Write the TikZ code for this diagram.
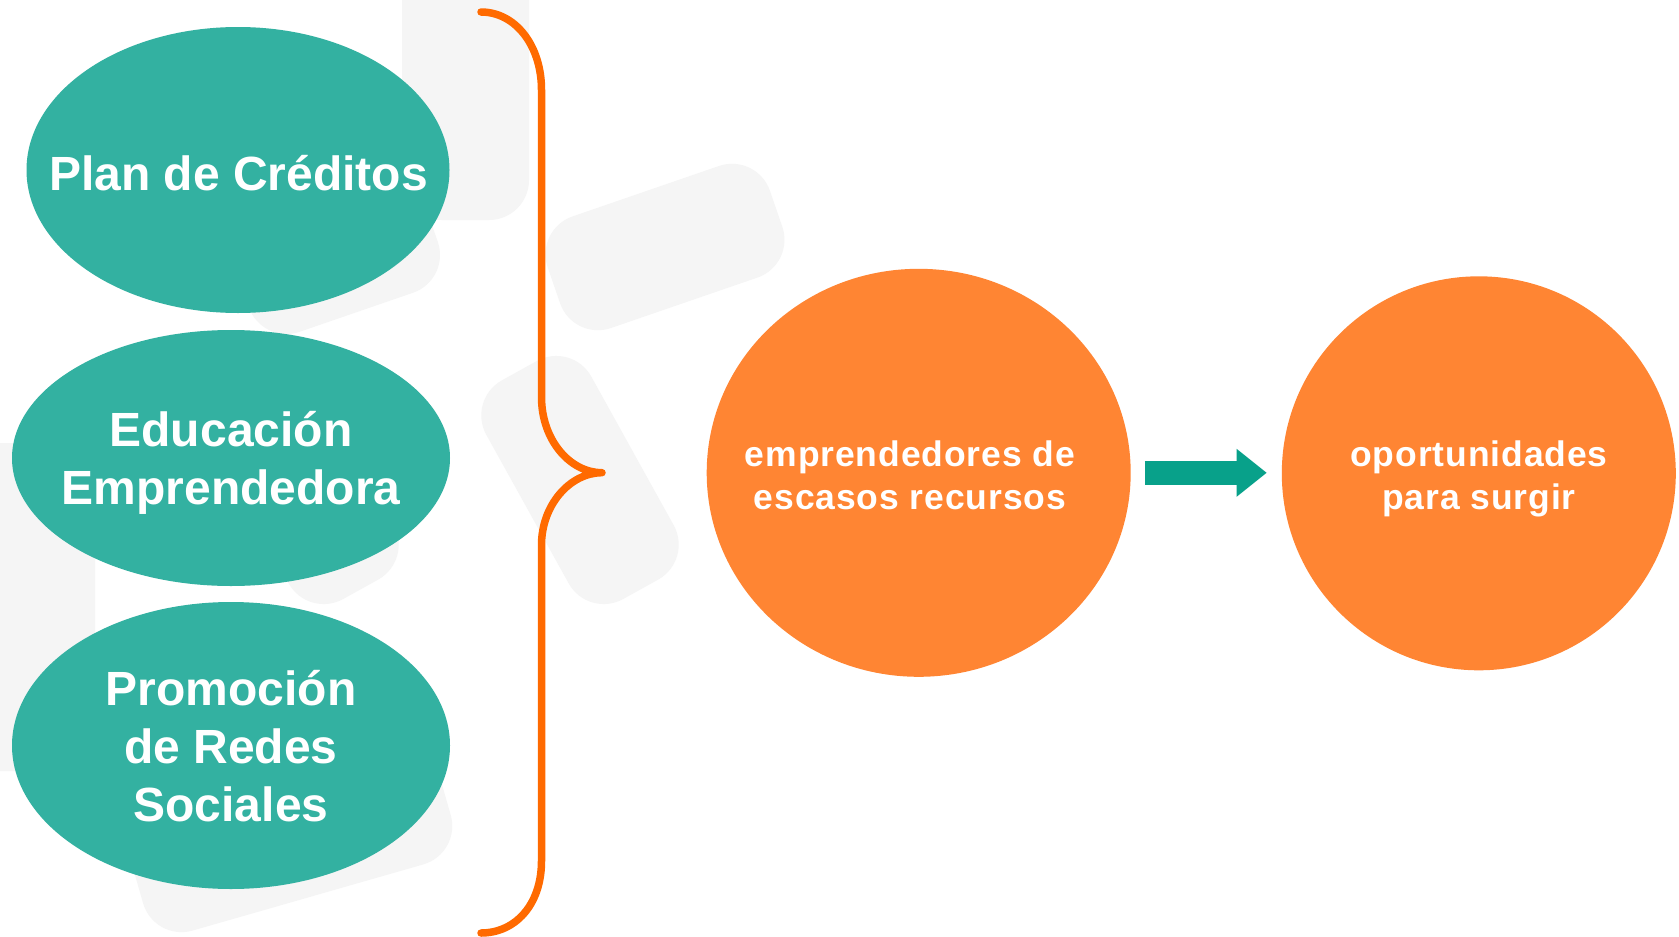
\documentclass[tikz,border=0pt]{standalone}
\usepackage{fontspec}
\setmainfont{Liberation Sans}
\usetikzlibrary{arrows.meta,shapes.geometric}
\definecolor{tealbub}{RGB}{51,177,161}
\definecolor{orangebub}{RGB}{255,133,51}
\definecolor{braceor}{RGB}{255,106,0}
\definecolor{arrowteal}{RGB}{8,161,138}
\definecolor{wmgray}{RGB}{245,245,245}
\tikzset{
  >=Stealth,
  bubble/.style={ellipse, fill=tealbub, inner sep=0pt},
  btxt/.style={text=white, align=center, inner sep=0pt, font=\fontsize{48}{58}\selectfont\bfseries},
  disc/.style={ellipse, fill=orangebub, inner sep=0pt},
  dtxt/.style={text=white, align=center, inner sep=0pt, font=\fontsize{35.5}{43}\selectfont\bfseries\addfontfeatures{LetterSpace=2.5}},
  wm/.style={rectangle, rounded corners=40pt, fill=wmgray, inner sep=0pt},
  brace/.style={draw=braceor, line width=7.5pt, line cap=round, line join=round},
  flow/.style={draw=arrowteal, line width=24pt, -{Triangle[length=30pt, width=48pt, line width=0pt]}}
}
\begin{document}
\begin{tikzpicture}[x=1pt, y=-1pt]
    \fill[white] (0,0) rectangle (1679,937);
    \useasboundingbox (0,0) rectangle (1679,937);

    % Watermark shapes
    \node[wm, minimum width=127pt, minimum height=300pt] (wm1) at (465.5,70) {};
    \node[wm, minimum width=235pt, minimum height=118pt, rotate=19] (wm2) at (665,247) {};
    \node[wm, minimum width=250pt, minimum height=120pt, rotate=-61] (wm3) at (580,480) {};
    \node[wm, minimum width=155pt, minimum height=328pt] (wm4) at (17.5,607) {};
    \node[wm, minimum width=320pt, minimum height=130pt, rotate=16] (wm5) at (290,835) {};
    \node[wm, minimum width=200pt, minimum height=100pt, rotate=19] (wm6) at (340,265) {};
    \node[wm, minimum width=250pt, minimum height=120pt, rotate=-61] (wm7) at (300,480) {};

    % Teal bubbles
    \node[bubble, minimum width=423pt, minimum height=286pt] (plan) at (238,170) {};
    \node[bubble, minimum width=438pt, minimum height=256pt] (edu) at (231,458) {};
    \node[bubble, minimum width=438pt, minimum height=287pt] (promo) at (231,745.5) {};
    \node[btxt, anchor=base] (plan-t) at (238.5,190) {Plan de Créditos};
    \node[btxt] (edu-t) at (231,463) {Educación\\Emprendedora};
    \node[btxt] (promo-t) at (231,746.5) {Promoción\\de Redes\\Sociales};

    % Brace
    \draw[brace] (481,12) .. controls (515,12) and (541.5,45) .. (541.5,90)
        -- (541.5,397) .. controls (541.5,440) and (570,472.7) .. (602,472.7)
        .. controls (570,472.7) and (541.5,505) .. (541.5,545)
        -- (541.5,861) .. controls (541.5,905) and (515,933) .. (481,933);

    % Orange circles
    \node[disc, minimum width=424pt, minimum height=408pt] (emp) at (918.7,472.8) {};
    \node[disc, minimum width=394pt, minimum height=394pt] (opp) at (1478.8,473.3) {};
    \node[dtxt] (emp-t) at (910,475) {emprendedores de\\escasos recursos};
    \node[dtxt] (opp-t) at (1479,478.5) {oportunidades\\para surgir};

    % Arrow
    \draw[flow, shorten <=14pt, shorten >=15pt] (emp.east) -- (emp.east -| opp.west);
\end{tikzpicture}
\end{document}
